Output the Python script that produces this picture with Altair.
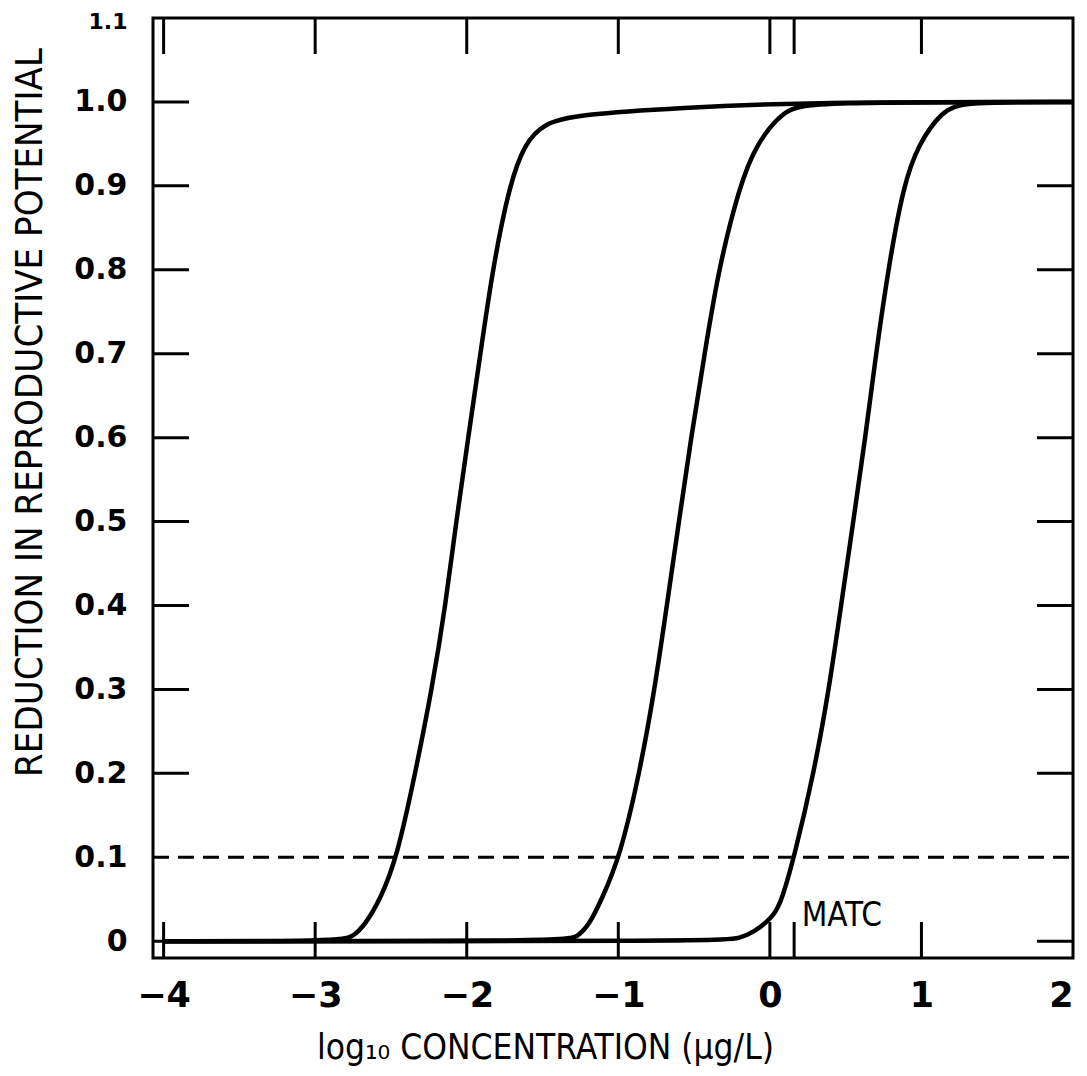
import altair as alt
import pandas as pd

# ---- data ----
c1_x = [-4.0, -2.85, -2.75, -2.67, -2.57, -2.46, -2.34, -2.23, -2.14, -2.07, -1.99, -1.91, -1.83, -1.72, -1.62, -1.49, -1.26, -0.6, 0.26, 2.0]
c1_y = [0.0, 0.0, 0.005, 0.02, 0.05, 0.10, 0.20, 0.30, 0.40, 0.50, 0.60, 0.70, 0.80, 0.90, 0.95, 0.975, 0.985, 0.993, 1.0, 1.0]

c2_x = [-4.0, -1.35, -1.27, -1.19, -1.11, -0.99, -0.86, -0.76, -0.68, -0.60, -0.52, -0.43, -0.34, -0.20, -0.09, 0.09, 0.26, 2.0]
c2_y = [0.0, 0.0, 0.005, 0.02, 0.05, 0.10, 0.20, 0.30, 0.40, 0.50, 0.60, 0.70, 0.80, 0.90, 0.95, 0.99, 1.0, 1.0]

c3_x = [-4.0, -0.30, -0.20, -0.11, 0.03, 0.08, 0.16, 0.29, 0.39, 0.47, 0.55, 0.63, 0.70, 0.78, 0.88, 0.98, 1.14, 1.28, 2.0]
c3_y = [0.0, 0.0, 0.004, 0.01, 0.03, 0.05, 0.10, 0.20, 0.30, 0.40, 0.50, 0.60, 0.70, 0.80, 0.90, 0.95, 0.99, 1.0, 1.0]

x_label_values = [-4, -3, -2, -1, 0, 1, 2]
y_label_values = [0, 0.1, 0.2, 0.3, 0.4, 0.5, 0.6, 0.7, 0.8, 0.9, 1.0, 1.1]
x_tick_values = [-4, -3, -2, -1, 0, 0.16, 1]
left_tick_values = [0, 0.2, 0.3, 0.4, 0.5, 0.6, 0.7, 0.8, 0.9, 1.0]
right_tick_values = [0, 0.2, 0.3, 0.4, 0.5, 0.6, 0.7, 0.8, 0.9]
threshold = [0.1]
matc_label = ["MATC"]
matc_x = [0.21]
matc_y = [0.03]

W, H = 920, 940
TICK = 36
TITLE_FONT = "DejaVu Sans Condensed, Liberation Sans Narrow, DejaVu Sans, sans-serif"
LABEL_FONT = "DejaVu Sans, sans-serif"

rows = []
for name, xs, ys in (("c1", c1_x, c1_y), ("c2", c2_x, c2_y), ("c3", c3_x, c3_y)):
    for i, (a, b) in enumerate(zip(xs, ys)):
        rows.append({"curve": name, "order": i, "x": a, "y": b})
curves = pd.DataFrame(rows)

xscale = alt.Scale(domain=[-4.07, 2.0], nice=False, zero=False)
yscale = alt.Scale(domain=[-0.02, 1.1], nice=False, zero=False)

x_axis = alt.Axis(
    values=x_label_values, grid=False, domain=False, ticks=False,
    labelFont=LABEL_FONT, labelFontSize=35, labelFontWeight="bold", labelColor="black",
    labelPadding=20,
    labelExpr="datum.value < 0 ? '\u2212' + abs(datum.value) : '' + datum.value",
    title="log\u2081\u2080 CONCENTRATION (\u03bcg/L)", titleFont=TITLE_FONT, titleFontSize=35,
    titleFontWeight="normal", titleColor="black",
    titleX=392, titleY=100, titleBaseline="alphabetic",
)
y_axis = alt.Axis(
    values=y_label_values, grid=False, domain=False, ticks=False,
    labelFont=LABEL_FONT,
    labelFontSize={"condition": {"test": "datum.value > 1.05", "value": 22}, "value": 30},
    labelOffset={"condition": {"test": "datum.value > 1.05", "value": 3}, "value": 0},
    labelFontWeight="bold", labelColor="black", labelPadding=26,
    labelExpr="datum.value == 0 ? '0' : format(datum.value, '.1f')",
    title="REDUCTION IN REPRODUCTIVE POTENTIAL", titleFont=TITLE_FONT, titleFontSize=38,
    titleFontWeight="normal", titleColor="black",
    titleX=-112, titleY=394, titleBaseline="alphabetic",
)

lines = alt.Chart(curves).mark_line(color="black", strokeWidth=4.5, interpolate="basis").encode(
    x=alt.X("x:Q", scale=xscale, axis=x_axis),
    y=alt.Y("y:Q", scale=yscale, axis=y_axis),
    detail="curve:N",
    order="order:Q",
)

dashed = alt.Chart(pd.DataFrame({"y": threshold})).mark_rule(
    color="black", strokeWidth=3, strokeDash=[16, 9]
).encode(y=alt.Y("y:Q", scale=yscale), x=alt.value(0), x2=alt.value(W))

top_ticks = alt.Chart(pd.DataFrame({"x": x_tick_values})).mark_rule(color="black", strokeWidth=3).encode(
    x=alt.X("x:Q", scale=xscale), y=alt.value(0), y2=alt.value(TICK))
bottom_ticks = alt.Chart(pd.DataFrame({"x": x_tick_values})).mark_rule(color="black", strokeWidth=3).encode(
    x=alt.X("x:Q", scale=xscale), y=alt.value(H - TICK), y2=alt.value(H))
left_ticks = alt.Chart(pd.DataFrame({"y": left_tick_values})).mark_rule(color="black", strokeWidth=3).encode(
    y=alt.Y("y:Q", scale=yscale), x=alt.value(0), x2=alt.value(TICK))
right_ticks = alt.Chart(pd.DataFrame({"y": right_tick_values})).mark_rule(color="black", strokeWidth=3).encode(
    y=alt.Y("y:Q", scale=yscale), x=alt.value(W - TICK), x2=alt.value(W))

matc = alt.Chart(pd.DataFrame({"x": matc_x, "y": matc_y, "t": matc_label})).mark_text(
    align="left", baseline="middle", font=TITLE_FONT, fontSize=33, color="black"
).encode(x=alt.X("x:Q", scale=xscale), y=alt.Y("y:Q", scale=yscale), text="t:N")

chart = alt.layer(lines, dashed, top_ticks, bottom_ticks, left_ticks, right_ticks, matc).properties(
    width=W, height=H,
    autosize=alt.AutoSizeParams(type="none"),
    padding={"left": 145, "top": 10, "right": 2, "bottom": 108},
    background="white",
).configure_view(stroke="black", strokeWidth=3)

chart.save("out.html", embed_options={"renderer": "svg", "actions": False})
